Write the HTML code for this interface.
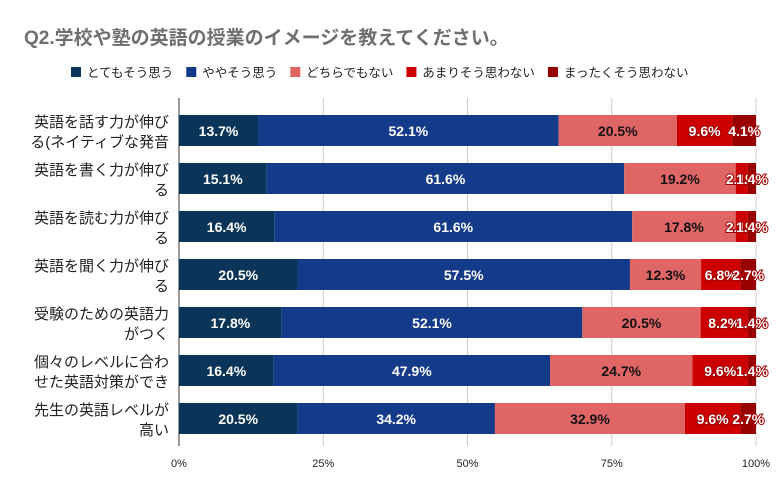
<!DOCTYPE html>
<html><head><meta charset="utf-8"><style>
body{margin:0;background:#fff;width:781px;height:495px;overflow:hidden;font-family:"Liberation Sans","Noto Sans CJK JP",sans-serif}
</style></head><body>
<svg width="781" height="495" id="c" font-family="Liberation Sans, Noto Sans CJK JP, sans-serif">
<text x="24" y="44" font-size="19" font-weight="bold" fill="#6f6f6f">Q2.学校や塾の英語の授業のイメージを教えてください。</text>
</svg>
<script>
const categories=[["英語を話す力が伸び","る(ネイティブな発音"],["英語を書く力が伸び","る"],["英語を読む力が伸び","る"],["英語を聞く力が伸び","る"],["受験のための英語力","がつく"],["個々のレベルに合わ","せた英語対策ができ"],["先生の英語レベルが","高い"]];
const seriesNames=["とてもそう思う","ややそう思う","どちらでもない","あまりそう思わない","まったくそう思わない"];
const s1=[13.7,15.1,16.4,20.5,17.8,16.4,20.5];
const s2=[52.1,61.6,61.6,57.5,52.1,47.9,34.2];
const s3=[20.5,19.2,17.8,12.3,20.5,24.7,32.9];
const s4=[9.6,2.1,2.1,6.8,8.2,9.6,9.6];
const s5=[4.1,1.4,1.4,2.7,1.4,1.4,2.7];
const ticks=[0,25,50,75,100];
const colors=["#0b3558","#143a8a","#e06666","#cc0000","#990000"];
const NS="http://www.w3.org/2000/svg";
const svg=document.getElementById('c');
const X0=179,X1=756,Y0=115,STEP=48,BH=31;
const x=v=>X0+(X1-X0)*v/100;
const y=i=>Y0+i*STEP;
function mk(t,a){const e=document.createElementNS(NS,t);for(const k in a)e.setAttribute(k,a[k]);svg.appendChild(e);return e;}
let lx=71;
seriesNames.forEach((n,i)=>{
const r=mk('rect',{x:lx,y:67,width:10,height:10,fill:colors[i]});


const t=mk('text',{x:lx+16,y:77,'font-size':12.5,fill:'#222'});t.textContent=n;


lx+=16+t.getComputedTextLength()+13;
});
ticks.forEach(v=>{
const l=mk('line',{x1:x(v),x2:x(v),y1:98,y2:446,stroke:'#ccc'});


const t=mk('text',{x:x(v),y:467,'font-size':11,'text-anchor':'middle',fill:'#222'});t.textContent=v+'%';


});
const ax=mk('line',{x1:X0,x2:X0,y1:98,y2:446,stroke:'#333'});


const series=[s1,s2,s3,s4,s5];
categories.forEach((c,i)=>{
c.forEach((ln,j)=>{const t=mk('text',{x:169,y:y(i)+12+j*20,'font-size':15,'text-anchor':'end',fill:'#222'});t.textContent=ln;

});
const tot=series.reduce((a,s)=>a+s[i],0);
let acc=0;
series.forEach((s,k)=>{
const v=s[i]*100/tot;
const r=mk('rect',{x:x(acc),y:y(i),width:x(acc+v)-x(acc),height:BH,fill:colors[k]});


const t=mk('text',{x:(x(acc)+x(acc+v))/2,y:y(i)+21,'font-size':14,'font-weight':'bold','text-anchor':'middle',fill:k==2?'#111':'#fff'});
if(k>=3){t.setAttribute('stroke','#a00000');t.setAttribute('stroke-width','2');t.setAttribute('paint-order','stroke');}
t.textContent=s[i].toFixed(1)+'%';


acc+=v;
});
});
</script>
</body></html>
